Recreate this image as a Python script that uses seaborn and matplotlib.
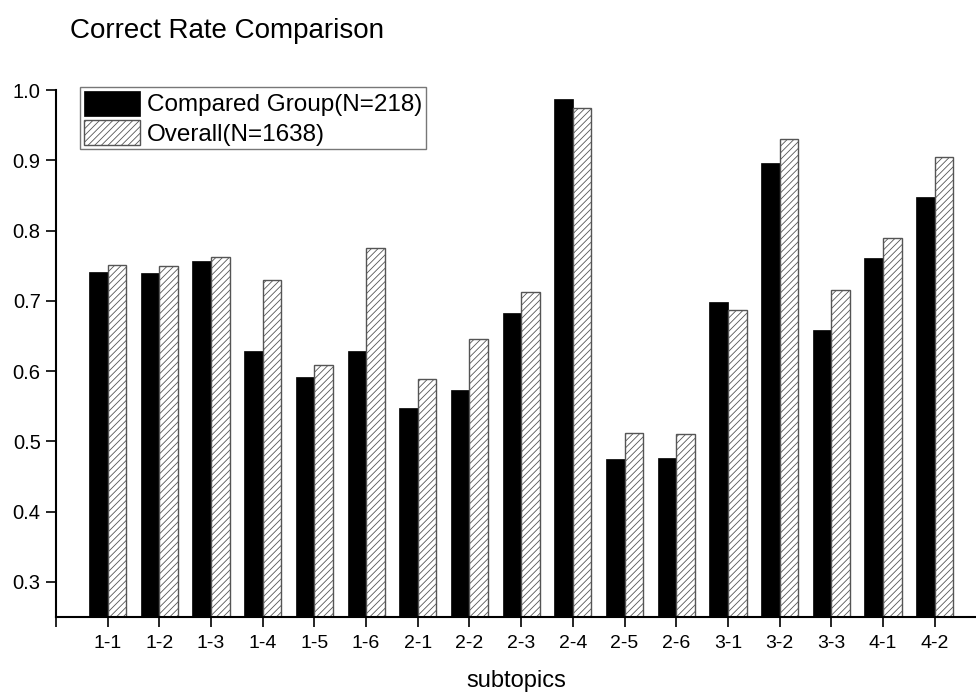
import matplotlib
matplotlib.use('Agg')
import matplotlib.pyplot as plt
import seaborn as sns
import pandas as pd

subtopics = ['1-1', '1-2', '1-3', '1-4', '1-5', '1-6', '2-1', '2-2', '2-3',
             '2-4', '2-5', '2-6', '3-1', '3-2', '3-3', '4-1', '4-2']
compared = [0.741, 0.740, 0.756, 0.628, 0.592, 0.628, 0.547, 0.573, 0.682,
            0.987, 0.475, 0.476, 0.698, 0.896, 0.659, 0.761, 0.848]
overall = [0.751, 0.750, 0.762, 0.729, 0.609, 0.775, 0.588, 0.646, 0.712,
           0.974, 0.512, 0.510, 0.687, 0.930, 0.716, 0.789, 0.904]
group_labels = ['Compared Group(N=218)', 'Overall(N=1638)']
y_ticks = [0.3, 0.4, 0.5, 0.6, 0.7, 0.8, 0.9, 1.0]

df = pd.DataFrame({
    'subtopic': subtopics * 2,
    'rate': compared + overall,
    'group': [group_labels[0]] * len(subtopics) + [group_labels[1]] * len(subtopics),
})

sns.set_style('ticks')
plt.rcParams['font.family'] = ['Liberation Sans', 'DejaVu Sans']
plt.rcParams['hatch.linewidth'] = 0.6
plt.rcParams['text.color'] = 'black'
plt.rcParams['axes.labelcolor'] = 'black'

fig = plt.figure(figsize=(9.76, 6.93), dpi=100)
ax = fig.add_axes([56 / 976, 76 / 693, 920 / 976, 527 / 693])

sns.barplot(data=df, x='subtopic', y='rate', hue='group',
            palette=['black', 'white'], saturation=1, width=0.72,
            legend=False, ax=ax)

# solid black bars, grey hatched bars
for bar in ax.containers[0]:
    bar.set_edgecolor('black')
    bar.set_linewidth(0.5)
for bar in ax.containers[1]:
    bar.set_hatch('/////')
    bar.set_edgecolor('#555555')
    bar.set_linewidth(1.0)

ax.set_xlim(-1, 16.8)
ax.set_ylim(0.25, 1.0)
ax.set_yticks(y_ticks)
ax.set_yticklabels([f'{v:.1f}' for v in y_ticks])
ax.set_xticks(range(-1, len(subtopics)))
ax.set_xticklabels([''] + subtopics)
ax.set_xlabel('')
ax.set_ylabel('')

sns.despine(ax=ax)
for side in ['left', 'bottom']:
    ax.spines[side].set_linewidth(1.5)
    ax.spines[side].set_color('black')
ax.tick_params(direction='out', length=7, width=1.2, colors='black',
               labelcolor='black')
ax.tick_params(axis='x', labelsize=14, pad=6)
ax.tick_params(axis='y', labelsize=14.5, pad=4)

fig.text(70 / 976, 1 - 31 / 693, 'Correct Rate Comparison', fontsize=20,
         va='center', ha='left')
fig.text(516 / 976, 1 - 681 / 693, 'subtopics', fontsize=17,
         va='center', ha='center')

leg = ax.legend(ax.containers, group_labels, loc='upper left',
                bbox_to_anchor=(80 / 976, 1 - 87 / 693),
                bbox_transform=fig.transFigure, frameon=True, fancybox=False,
                edgecolor='#777777', framealpha=1, fontsize=17.5,
                handlelength=2.3, handleheight=1.2, handletextpad=0.3,
                labelspacing=0.15, borderpad=0.15, borderaxespad=0)
leg.get_frame().set_linewidth(1)

fig.savefig('out.png', dpi=100)
